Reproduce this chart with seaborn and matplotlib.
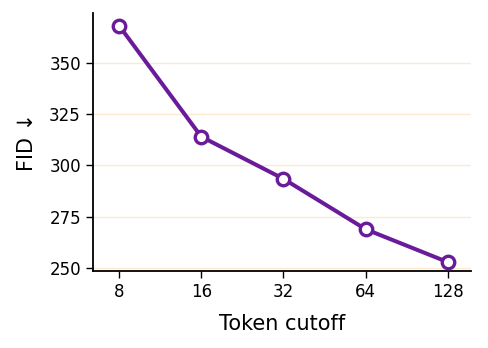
import matplotlib
matplotlib.use("Agg")
import matplotlib.pyplot as plt
import seaborn as sns
import pandas as pd

token_cutoff = [8, 16, 32, 64, 128]
fid = [368, 314, 293.5, 269, 253]

df = pd.DataFrame({"Token cutoff": token_cutoff, "FID": fid})

sns.set_style("ticks")
plt.rcParams["font.family"] = ["DejaVu Sans"]
plt.rcParams["text.color"] = "black"
plt.rcParams["axes.labelcolor"] = "black"

fig, ax = plt.subplots(figsize=(4.88, 3.48), dpi=100)
ax.set_xscale("log", base=2)
sns.lineplot(data=df, x="Token cutoff", y="FID", ax=ax,
             color="#6a1b9a", linewidth=2.9, marker="o", markersize=9,
             markerfacecolor="white", markeredgecolor="#6a1b9a",
             markeredgewidth=2.4, zorder=3)

ax.set_xticks(token_cutoff)
ax.set_xticklabels([str(t) for t in token_cutoff])
ax.minorticks_off()
ax.set_xlim(8 * 2 ** -0.32, 8 * 2 ** 4.28)
ax.set_ylim(248.5, 374)
ax.set_yticks([250, 275, 300, 325, 350])
ax.yaxis.grid(True, color="#fde9d2", linewidth=1)
ax.set_axisbelow(True)
ax.tick_params(labelsize=12, length=5, width=1, colors="black")
ax.set_xlabel("Token cutoff", fontsize=15, labelpad=9)
ax.set_ylabel("FID ↓", fontsize=15, labelpad=9)
for s in ["left", "bottom"]:
    ax.spines[s].set_linewidth(1.3)
    ax.spines[s].set_color("black")
sns.despine(ax=ax)

plt.subplots_adjust(left=0.19, right=0.965, top=0.962, bottom=0.22)
plt.savefig("out.png", dpi=100)
